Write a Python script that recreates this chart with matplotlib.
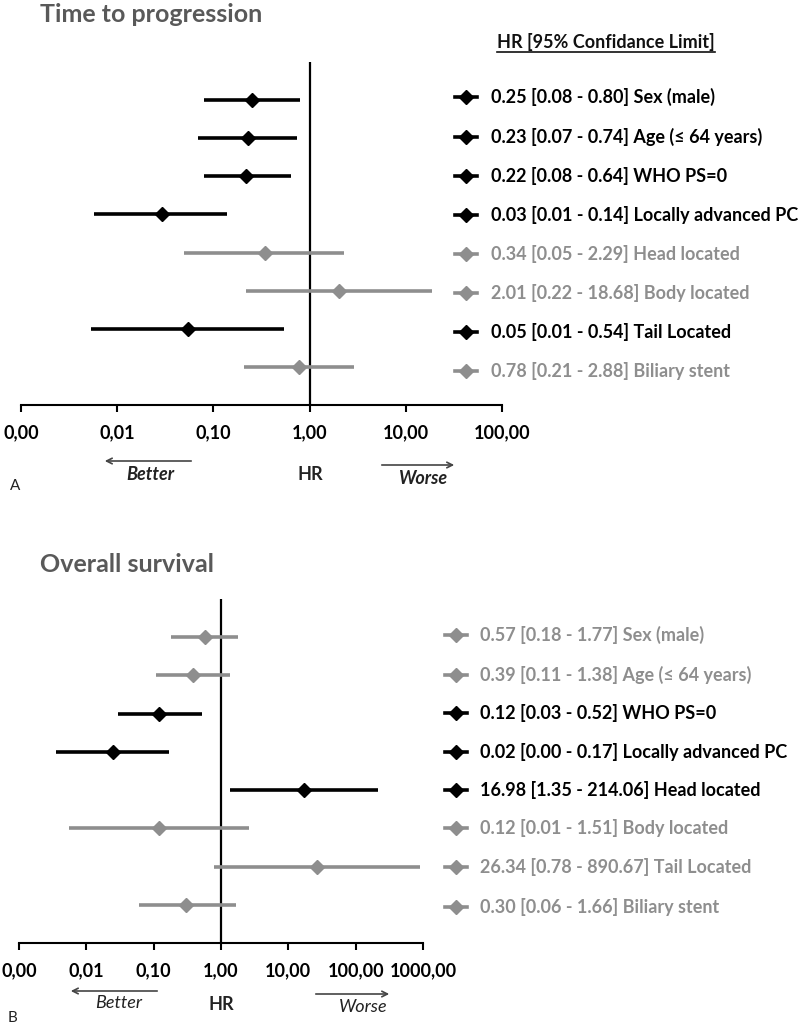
import matplotlib
matplotlib.use("Agg")
import matplotlib.pyplot as plt
from matplotlib.ticker import FixedLocator, FixedFormatter

plt.rcParams['font.family'] = ['Lato', 'DejaVu Sans']

# panel A: time to progression (positions)
ttp_hr = [0.25, 0.23, 0.22, 0.029, 0.34, 2.01, 0.054, 0.78]
ttp_lo = [0.08, 0.07, 0.08, 0.0057, 0.05, 0.22, 0.0053, 0.21]
ttp_hi = [0.80, 0.74, 0.64, 0.14, 2.29, 18.68, 0.54, 2.88]
ttp_sig = [True, True, True, True, False, False, True, False]
ttp_labels = ["0.25 [0.08 - 0.80] Sex (male)",
              "0.23 [0.07 - 0.74] Age (\u2264 64 years)",
              "0.22 [0.08 - 0.64] WHO PS=0",
              "0.03 [0.01 - 0.14] Locally advanced PC",
              "0.34 [0.05 - 2.29] Head located",
              "2.01 [0.22 - 18.68] Body located",
              "0.05 [0.01 - 0.54] Tail Located",
              "0.78 [0.21 - 2.88] Biliary stent"]

# panel B: overall survival
os_hr = [0.57, 0.39, 0.12, 0.025, 16.98, 0.12, 26.34, 0.30]
os_lo = [0.18, 0.11, 0.03, 0.0035, 1.35, 0.0055, 0.78, 0.06]
os_hi = [1.77, 1.38, 0.52, 0.17, 214.06, 2.6, 890.67, 1.66]
os_sig = [False, False, True, True, True, False, False, False]
os_labels = ["0.57 [0.18 - 1.77] Sex (male)",
             "0.39 [0.11 - 1.38] Age (\u2264 64 years)",
             "0.12 [0.03 - 0.52] WHO PS=0",
             "0.02 [0.00 - 0.17] Locally advanced PC",
             "16.98 [1.35 - 214.06] Head located",
             "0.12 [0.01 - 1.51] Body located",
             "26.34 [0.78 - 890.67] Tail Located",
             "0.30 [0.06 - 1.66] Biliary stent"]

ttp_ticks = [0.001, 0.01, 0.1, 1, 10, 100]
ttp_ticklabels = ["0,00", "0,01", "0,10", "1,00", "10,00", "100,00"]
os_ticks = [0.001, 0.01, 0.1, 1, 10, 100, 1000]
os_ticklabels = ["0,00", "0,01", "0,10", "1,00", "10,00", "100,00", "1000,00"]

BLACK = "#000000"
GREY = "#8e8e8e"
TITLE = "#595959"

W, H = 800, 1026
fig = plt.figure(figsize=(W / 100, H / 100), dpi=100)

# overlay axes in pixel coordinates for annotations
ov = fig.add_axes([0, 0, 1, 1], zorder=5)
ov.set_xlim(0, W)
ov.set_ylim(H, 0)
ov.axis("off")
ov.patch.set_alpha(0)


def forest(x0, x1, ytop, ybot, hr, lo, hi, sig, ticks, ticklabels):
    ax = fig.add_axes([x0 / W, 1 - ybot / H, (x1 - x0) / W, (ybot - ytop) / H])
    ax.set_xscale("log")
    ax.set_xlim(ticks[0], ticks[-1])
    ax.set_ylim(9, 0)
    for s in ["top", "right", "left"]:
        ax.spines[s].set_visible(False)
    ax.spines["bottom"].set_linewidth(1.5)
    ax.spines["bottom"].set_clip_on(False)
    ax.set_yticks([])
    ax.xaxis.set_major_locator(FixedLocator(ticks))
    ax.xaxis.set_major_formatter(FixedFormatter(ticklabels))
    ax.xaxis.set_minor_locator(FixedLocator([]))
    ax.tick_params(axis="x", direction="out", length=5, width=1.5, pad=9,
                   labelsize=13)
    for t in ax.get_xticklabels():
        t.set_fontweight("bold")
    ax.vlines(1, 0, 9, color=BLACK, lw=1.6)
    for i in range(len(hr)):
        c = BLACK if sig[i] else GREY
        ax.plot([lo[i], hi[i]], [i + 1, i + 1], color=c, lw=2.6,
                solid_capstyle="butt", zorder=3, clip_on=False)
        ax.plot([hr[i]], [i + 1], marker="D", color=c, ms=7.5, zorder=4,
                clip_on=False)
    return ax


def legend(xm, xt, ys, labels, sig):
    for y, lab, s in zip(ys, labels, sig):
        c = BLACK if s else GREY
        ov.plot([xm - 11, xm + 11], [y, y], color=c, lw=2.6)
        ov.plot([xm], [y], marker="D", color=c, ms=7)
        ov.text(xt, y, lab, color=c, fontsize=13, fontweight="bold",
                va="center", ha="left")


def arrows(y_arrow_l, y_arrow_r, xl, xw0, xw1, bx, by, hx, hy, wx, wy, bold):
    ov.annotate("", xy=(xl[1], y_arrow_l), xytext=(xl[0], y_arrow_l),
                arrowprops=dict(arrowstyle="->", color="#444444", lw=1.2))
    ov.annotate("", xy=(xw1, y_arrow_r), xytext=(xw0, y_arrow_r),
                arrowprops=dict(arrowstyle="->", color="#444444", lw=1.2))
    w = "bold" if bold else "normal"
    ov.text(bx, by, "Better", fontsize=13, fontstyle="italic", fontweight=w,
            ha="center", va="center", color="#222222")
    ov.text(hx, hy, "HR", fontsize=13, fontweight="bold",
            ha="center", va="center", color="#222222")
    ov.text(wx, wy, "Worse", fontsize=13, fontstyle="italic", fontweight=w,
            ha="center", va="center", color="#222222")


# ---- panel A
forest(21, 502, 62, 405, ttp_hr, ttp_lo, ttp_hi, ttp_sig, ttp_ticks, ttp_ticklabels)
ov.text(40, 15, "Time to progression", fontsize=18, fontweight="bold",
        color=TITLE, va="center", ha="left")
hdr = ov.text(497, 42, "HR [95% Confidance Limit]", fontsize=13,
              fontweight="bold", color="#111111", va="center", ha="left")
legend(466, 491, [97, 137, 176, 215, 254, 293, 332, 371], ttp_labels, ttp_sig)
arrows(461, 465, (194, 102), 379, 457, 150, 474, 310, 474, 424, 478, True)
ov.text(10, 486, "A", fontsize=11, va="center", ha="left", color="#222222")

# ---- panel B
forest(19, 423, 599, 943, os_hr, os_lo, os_hi, os_sig, os_ticks, os_ticklabels)
ov.text(40, 564, "Overall survival", fontsize=18, fontweight="bold",
        color=TITLE, va="center", ha="left")
legend(456, 480, [635, 675, 713, 752, 790, 828, 867, 907], os_labels, os_sig)
arrows(991, 994, (160, 68), 313, 392, 119, 1003, 221, 1005, 363, 1007, False)
ov.text(8, 1018, "B", fontsize=11, va="center", ha="left", color="#222222")

# underline for the header
fig.canvas.draw()
bb = hdr.get_window_extent()
ov.plot([bb.x0, bb.x1], [H - bb.y0 + 1, H - bb.y0 + 1], color="#111111", lw=1.2)

fig.savefig("out.png", dpi=100)
